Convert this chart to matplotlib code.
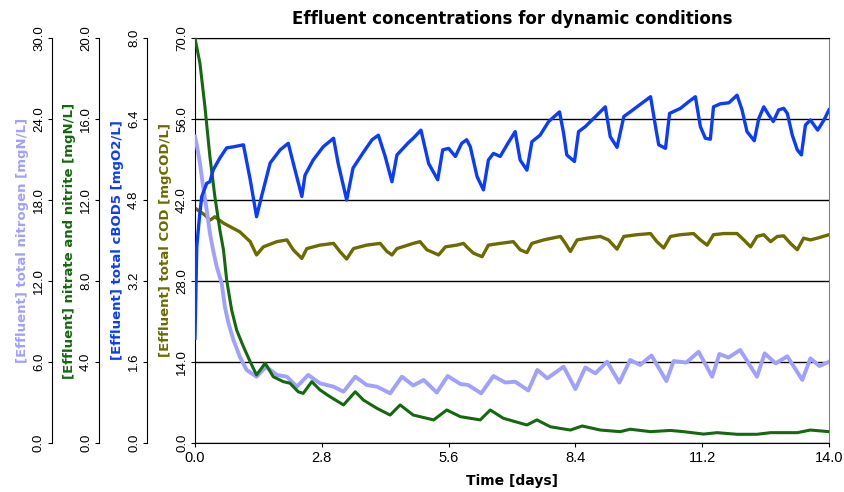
import matplotlib.pyplot as plt

plt.rcParams['font.family'] = ['Liberation Sans', 'DejaVu Sans']

# values (time in days)
t_bod = [0.00, 0.04, 0.10, 0.15, 0.26, 0.33, 0.40, 0.55, 0.70, 0.85, 1.07, 1.22, 1.36, 1.47, 1.66, 1.88, 2.06,
         2.17, 2.36, 2.43, 2.61, 2.83, 3.06, 3.16, 3.35, 3.49, 3.71, 3.91, 4.05, 4.20, 4.35, 4.46, 4.71, 4.82,
         4.99, 5.16, 5.36, 5.47, 5.60, 5.75, 5.89, 6.00, 6.08, 6.23, 6.37, 6.48, 6.59, 6.74, 6.89, 7.07, 7.18,
         7.33, 7.44, 7.62, 7.81, 8.05, 8.14, 8.21, 8.38, 8.47, 8.62, 8.88, 9.06, 9.17, 9.32, 9.47, 9.61, 9.91,
         10.06, 10.17, 10.24, 10.39, 10.48, 10.72, 10.90, 11.05, 11.16, 11.27, 11.38, 11.45, 11.60, 11.79,
         11.97, 12.08, 12.19, 12.35, 12.45, 12.56, 12.67, 12.77, 12.89, 13.00, 13.08, 13.19, 13.30, 13.39,
         13.48, 13.59, 13.75, 13.89, 14.00]
bod = [2.07, 3.88, 4.47, 4.87, 5.13, 5.16, 5.39, 5.63, 5.83, 5.85, 5.89, 5.20, 4.47, 4.87, 5.53, 5.79, 5.92,
       5.53, 4.87, 5.29, 5.59, 5.85, 6.02, 5.53, 4.80, 5.43, 5.73, 5.99, 6.08, 5.66, 5.16, 5.69, 5.93, 6.02,
       6.18, 5.52, 5.20, 5.79, 5.82, 5.66, 5.92, 5.99, 5.85, 5.26, 5.00, 5.59, 5.72, 5.66, 5.89, 6.15, 5.59,
       5.39, 5.95, 6.08, 6.35, 6.54, 6.12, 5.69, 5.56, 6.15, 6.25, 6.48, 6.64, 6.05, 5.84, 6.45, 6.54, 6.74,
       6.84, 6.25, 5.89, 5.82, 6.51, 6.61, 6.74, 6.84, 6.25, 6.02, 6.00, 6.64, 6.70, 6.72,
       6.87, 6.58, 6.15, 5.97, 6.41, 6.64, 6.48, 6.35, 6.58, 6.61, 6.51, 6.08, 5.79, 5.69,
       6.28, 6.38, 6.18, 6.38, 6.58]

t_cod = [0.00, 0.22, 0.33, 0.44, 0.63, 0.99, 1.22, 1.36, 1.51, 1.81, 2.03, 2.17, 2.36, 2.47, 2.76, 3.06, 3.20,
         3.35, 3.50, 3.79, 4.09, 4.24, 4.35, 4.46, 4.82, 4.97, 5.12, 5.38, 5.53, 5.78, 5.93, 6.00, 6.15, 6.34,
         6.48, 6.74, 7.03, 7.18, 7.33, 7.44, 7.70, 8.07, 8.18, 8.29, 8.44, 8.66, 8.95, 9.13, 9.32, 9.47, 9.76,
         10.06, 10.20, 10.35, 10.50, 10.72, 11.01, 11.16, 11.31, 11.45, 11.68, 11.97, 12.12, 12.27, 12.41,
         12.56, 12.71, 12.86, 13.00, 13.15, 13.30, 13.44, 13.59, 13.74, 14.00]
cod = [40.6, 39.4, 38.5, 39.1, 38.0, 36.5, 34.8, 32.5, 33.9, 34.8, 35.1, 33.4, 31.9, 33.6, 34.2, 34.5, 33.1,
       31.8, 33.6, 34.2, 34.5, 33.1, 32.5, 33.6, 34.5, 34.8, 33.4, 32.5, 33.9, 34.2, 34.5, 33.9, 32.8, 32.2,
       34.2, 34.5, 34.8, 33.4, 32.9, 34.5, 35.1, 35.7, 34.5, 33.1, 35.1, 35.4, 35.7, 35.1, 33.5, 35.7, 36.0,
       36.2, 34.8, 33.7, 35.7, 36.0, 36.2, 35.1, 34.2, 36.0, 36.2, 36.2, 35.1, 33.9, 35.7,
       36.0, 34.8, 35.7, 35.8, 34.5, 33.4, 35.4, 35.1, 35.4, 36.0]

t_no3 = [0.00, 0.11, 0.22, 0.33, 0.44, 0.55, 0.63, 0.70, 0.81, 0.92, 1.07, 1.22, 1.36, 1.55, 1.73, 1.95, 2.10,
         2.28, 2.39, 2.58, 2.76, 2.98, 3.28, 3.54, 3.72, 4.02, 4.31, 4.53, 4.82, 5.27, 5.56, 5.86, 6.30, 6.52,
         6.81, 7.33, 7.55, 7.85, 8.29, 8.55, 8.95, 9.39, 9.61, 10.06, 10.50, 10.79, 11.23, 11.53, 11.97, 12.41,
         12.71, 13.30, 13.59, 14.00]
no3 = [20.0, 18.75, 16.61, 14.14, 12.16, 10.52, 9.53, 8.05, 6.57, 5.58, 4.76, 4.01, 3.36, 3.94, 3.27, 3.03,
       2.95, 2.53, 2.45, 3.03, 2.62, 2.29, 1.88, 2.53, 2.12, 1.71, 1.38, 1.88, 1.38, 1.14, 1.63, 1.30, 1.14,
       1.63, 1.22, 0.89, 1.14, 0.80, 0.64, 0.84, 0.64, 0.56, 0.68, 0.56, 0.62, 0.56, 0.44, 0.51, 0.43, 0.43,
       0.51, 0.51, 0.64, 0.56]

t_n = [0.00, 0.04, 0.11, 0.18, 0.26, 0.33, 0.40, 0.48, 0.59, 0.66, 0.74, 0.85, 0.99, 1.14, 1.36, 1.57, 1.81,
       2.03, 2.25, 2.50, 2.76, 3.06, 3.28, 3.54, 3.79, 4.02, 4.31, 4.57, 4.82, 5.05, 5.34, 5.58, 5.86, 6.03,
       6.32, 6.59, 6.85, 7.07, 7.36, 7.56, 7.78, 8.14, 8.40, 8.62, 8.84, 9.10, 9.37, 9.61, 9.83, 10.08, 10.41,
       10.57, 10.85, 11.12, 11.42, 11.58, 11.78, 12.04, 12.41, 12.58, 12.82, 13.08, 13.41, 13.59, 13.79, 14.00]
tn = [22.7, 22.07, 20.72, 18.99, 17.26, 15.53, 14.30, 13.06, 11.83, 10.10, 8.87, 7.63, 6.39, 5.41, 4.91, 5.65,
      5.04, 4.91, 4.17, 5.04, 4.42, 4.17, 3.80, 4.91, 4.30, 4.17, 3.68, 4.91, 4.26, 4.67, 3.74, 4.96, 4.37,
      4.30, 3.68, 4.96, 4.48, 4.54, 3.89, 5.41, 4.79, 5.65, 4.00, 5.59, 5.16, 6.02, 4.48, 6.15, 5.78, 6.48,
      4.59, 6.07, 5.96, 6.76, 4.91, 6.59, 6.33, 6.89, 4.91, 6.64, 5.90, 6.42, 4.67, 6.27, 5.70, 6.02]

x_ticks = [0.0, 2.8, 5.6, 8.4, 11.2, 14.0]

c_n = '#a0a0ff'
c_no3 = '#14690f'
c_bod = '#0a3cff'
c_cod = '#6b6b00'

bold_font = dict(family='DejaVu Sans', fontweight='bold')

fig = plt.figure(figsize=(8.44, 4.92), dpi=100)
ax = fig.add_axes([0.231, 0.0996, 0.7512, 0.8232])


def left_axis(a, pos, top, label, color):
    a.set_ylim(0, top)
    a.set_yticks([top * i / 5 for i in range(6)])
    a.yaxis.set_major_formatter('{x:.1f}')
    a.yaxis.tick_left()
    a.yaxis.set_label_position('left')
    for s in ['right', 'top', 'bottom']:
        a.spines[s].set_visible(False)
    a.spines['left'].set_visible(True)
    a.spines['left'].set_position(('axes', pos))
    a.tick_params(axis='y', labelrotation=90, labelsize=9.5, length=3, pad=2)
    for lbl in a.get_yticklabels():
        lbl.set_va('center')
    a.set_ylabel(label, color=color, fontsize=9.5, labelpad=3, **bold_font)


ax_n = ax.twinx()
ax_no3 = ax.twinx()
ax_bod = ax.twinx()

ax.plot(t_cod, cod, color=c_cod, lw=2.4)
ax_bod.plot(t_bod, bod, color=c_bod, lw=2.4)
ax_n.plot(t_n, tn, color=c_n, lw=2.8)
ax_no3.plot(t_no3, no3, color=c_no3, lw=2.2)

left_axis(ax, 0.0, 70, '[Effluent] total COD [mgCOD/L]', c_cod)
left_axis(ax_bod, -0.0757, 8, '[Effluent] total cBOD5 [mgO2/L]', c_bod)
left_axis(ax_no3, -0.1514, 20, '[Effluent] nitrate and nitrite [mgN/L]', c_no3)
left_axis(ax_n, -0.2256, 30, '[Effluent] total nitrogen [mgN/L]', c_n)

ax.spines['bottom'].set_visible(True)
ax.spines['top'].set_visible(True)
ax.spines['right'].set_visible(True)
ax.spines['right'].set_color('#808080')
ax.yaxis.grid(True, color='black', lw=1)
ax.set_axisbelow(True)

ax.set_xlim(0, 14)
ax.set_xticks(x_ticks)
ax.xaxis.set_major_formatter('{x:.1f}')
ax.tick_params(axis='x', labelsize=10.5, length=3, pad=3)
ax.set_xlabel('Time [days]', fontsize=10, labelpad=6, **bold_font)
ax.set_title('Effluent concentrations for dynamic conditions', fontsize=12, pad=10, **bold_font)

fig.savefig('out.png', dpi=100)
